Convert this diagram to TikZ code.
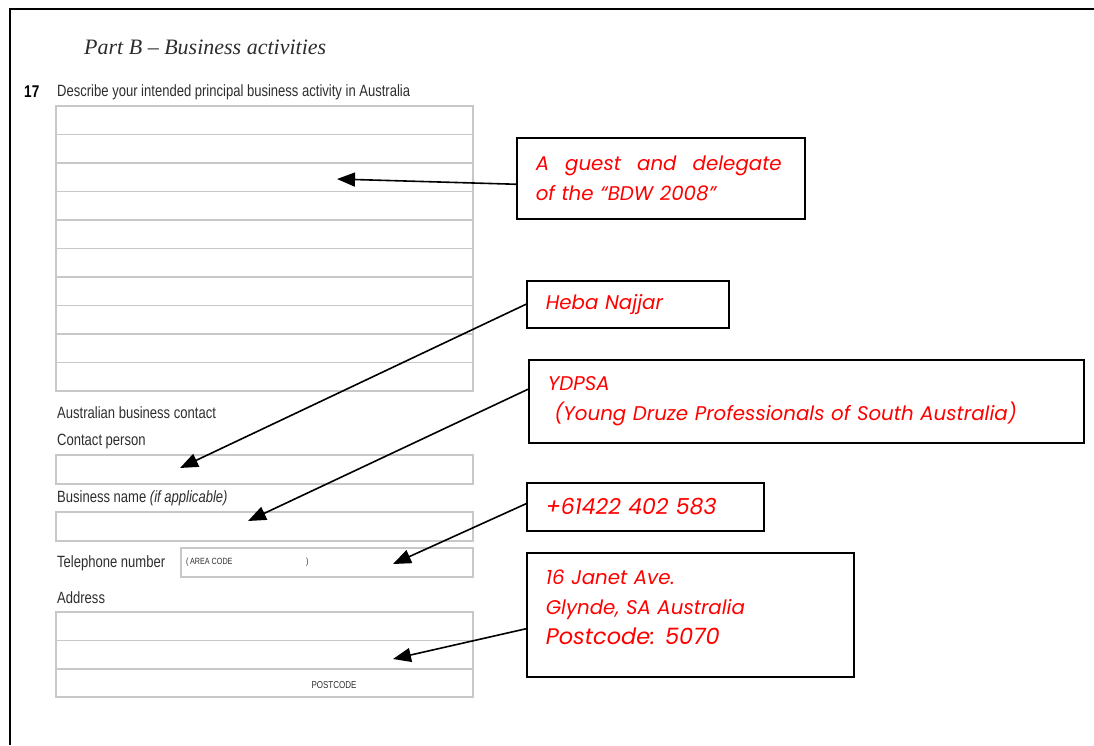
\documentclass[tikz,border=0pt]{standalone}
\usepackage{fontspec}
\usepackage{tikz}
\usetikzlibrary{arrows.meta}
\newfontfamily\formfont[FakeStretch=0.8,Ligatures=TeX]{Liberation Sans}
\newfontfamily\titlefont[Ligatures=TeX]{Liberation Serif}
\newfontfamily\notefont[Ligatures=TeX]{Poppins}
\definecolor{formgray}{RGB}{200,200,200}
\definecolor{formtext}{RGB}{45,45,45}

\begin{document}
\begin{tikzpicture}[x=1pt,y=-1pt,
    field/.style={draw=formgray,line width=1.2pt},
    lbl/.style={anchor=west,inner sep=0pt,text=formtext,font=\formfont\fontsize{16.3}{18}\selectfont},
    note/.style={draw,line width=1.5pt,anchor=north west,inner xsep=19pt,inner ysep=0pt,align=left,
      text=red,font=\notefont\itshape\fontsize{19.8}{30}\selectfont},
    pointer/.style={line width=1.6pt,-{Triangle[length=18pt,width=14pt]}}]
  \useasboundingbox (0,0) rectangle (1094,745);
  % frame
  \draw[line width=2.5pt] (10,745) -- (10,9) -- (1094,9);

  % form
  \node[anchor=west,inner sep=0pt,font=\titlefont\itshape\fontsize{22}{26}\selectfont,text=formtext] (title) at (84,47) {Part B -- Business activities};
  \node[anchor=west,inner sep=0pt,font=\formfont\bfseries\fontsize{17}{18}\selectfont] (num) at (24,92) {17};
  \node[lbl] (describe) at (57,92) {Describe your intended principal business activity in Australia};
  \draw[field] (56,106) rectangle (473,391);
  \foreach \i in {1,...,9}
    \draw[field] (56,106+28.5*\i) -- (473,106+28.5*\i);
  \node[lbl] (abc) at (57,413) {Australian business contact};
  \node[lbl] (cperson) at (57,441) {Contact person};
  \draw[field] (56,455) rectangle (473,484);
  \node[lbl] (bname) at (57,498) {Business name \textit{(if applicable)}};
  \draw[field] (56,512) rectangle (473,541);
  \node[lbl] (tel) at (57,563) {Telephone number};
  \draw[field] (181,548) rectangle (473,577);
  \node[lbl,font=\formfont\fontsize{9}{10}\selectfont] (acode) at (186,562) {(\,AREA CODE};
  \node[lbl,font=\formfont\fontsize{9}{10}\selectfont] (acode2) at (306,562) {)};
  \node[lbl] (address) at (57,598) {Address};
  \draw[field] (56,612) rectangle (473,697);
  \foreach \i in {1,2}
    \draw[field] (56,612+28.5*\i) -- (473,612+28.5*\i);
  \node[lbl,anchor=center,font=\formfont\fontsize{10}{11}\selectfont] (pcode) at (334,685) {POSTCODE};

  % arrow targets
  \coordinate (tActivity) at (337,179);
  \coordinate (tPerson) at (180,468);
  \coordinate (tBusiness) at (248,521);
  \coordinate (tPhone) at (393,564);
  \coordinate (tAddress) at (393,659);

  % callouts
  \node[note,minimum width=288pt,minimum height=81pt,text width=250pt] (guest) at (516,137)
    {\makebox[246pt]{A\hfill guest\hfill and\hfill delegate}\\of the ``BDW 2008''};
  \node[note,minimum width=202pt,minimum height=47pt,text width=164pt] (heba) at (526,280) {Heba Najjar};
  \node[note,minimum width=555pt,minimum height=83pt,text width=517pt] (ydpsa) at (528,359)
    {YDPSA\\\ (Young Druze Professionals of South Australia)};
  \node[note,minimum width=237pt,minimum height=48pt,text width=199pt,font=\notefont\itshape\fontsize{22}{26}\selectfont] (phone) at (526,482) {+61422 402 583};
  \node[note,minimum width=327pt,minimum height=124pt,text width=289pt] (addr) at (526,552)
    {16 Janet Ave.\\Glynde, SA Australia\\{\fontsize{22.5}{30}\selectfont Postcode: 5070}\\[-14pt]\mbox{}};

  \draw[pointer] ([yshift=-6pt]guest.west) -- (tActivity);
  \draw[pointer] (heba.west) -- (tPerson);
  \draw[pointer] ([yshift=12pt]ydpsa.west) -- (tBusiness);
  \draw[pointer] ([yshift=3pt]phone.west) -- (tPhone);
  \draw[pointer] ([yshift=-14pt]addr.west) -- (tAddress);
\end{tikzpicture}
\end{document}
